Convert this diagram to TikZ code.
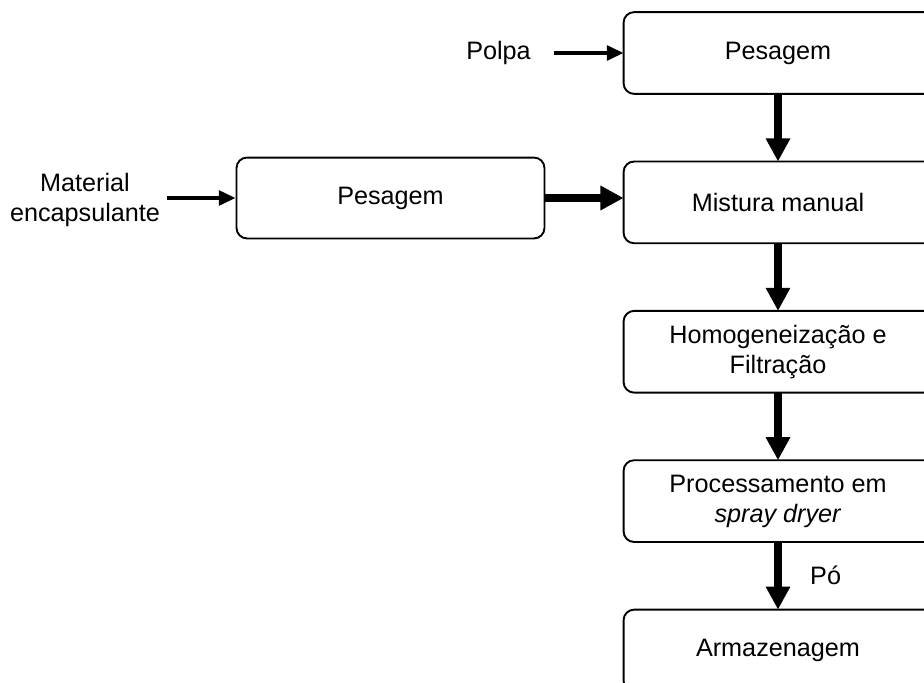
\documentclass[tikz,border=0pt]{standalone}
\usepackage{fontspec}
\setmainfont{Liberation Sans}
\usetikzlibrary{positioning,arrows.meta}
\tikzset{
  basic/.style   = {font=\fontsize{12}{14.4}\selectfont, align=center},
  box/.style     = {draw, line width=0.9pt, rounded corners=5pt},
  process/.style = {basic, minimum width=146.6pt, minimum height=38.5pt,
    append after command={\pgfextra{\draw[box] (\tikzlastnode.north west) rectangle ([xshift=30pt]\tikzlastnode.south east);}}},
  side/.style    = {basic, box, minimum width=146.6pt, minimum height=38.5pt},
  feed/.style    = {basic},
  thin-arrow/.style  = {line width=1.8pt, -{Triangle[length=8pt,width=7pt]}},
  thick-arrow/.style = {line width=4pt, -{Triangle[length=11pt,width=11pt]}}
}

\begin{document}
\begin{tikzpicture}[x=0.476pt, y=-0.476pt, node distance=32.2pt]
		\useasboundingbox (0,0) rectangle (924,682);
		\clip (0,0) rectangle (924,682);
		% main line
		\node[process] (pes1) at (778,53) {Pesagem};
		\node[process, below=of pes1] (mix) {Mistura manual};
		\node[process, below=of mix] (homo) {Homogeneização e\\Filtração};
		\node[process, below=of homo] (spray) {Processamento em\\\textit{spray dryer}};
		\node[process, below=of spray] (arm) {Armazenagem};
		% side line
		\node[side] (pes2) at (390.5,198) {Pesagem};
		\node[feed] (polpa) at (498.5,53) {Polpa};
		\node[feed] (mat) at (85,200) {Material\\encapsulante};

		\draw[thin-arrow, shorten <=7.6pt] (polpa) -- (pes1);
		\draw[thin-arrow] (mat.east |- pes2) -- (pes2);
		\draw[thick-arrow] (pes2.east) -- (pes2.east -| mix.west);
		\draw[thick-arrow] (pes1) -- (mix);
		\draw[thick-arrow] (mix) -- (homo);
		\draw[thick-arrow] (homo) -- (spray);
		\draw[thick-arrow] (spray) -- node[feed, right=10pt] {Pó} (arm);
	\end{tikzpicture}
\end{document}
